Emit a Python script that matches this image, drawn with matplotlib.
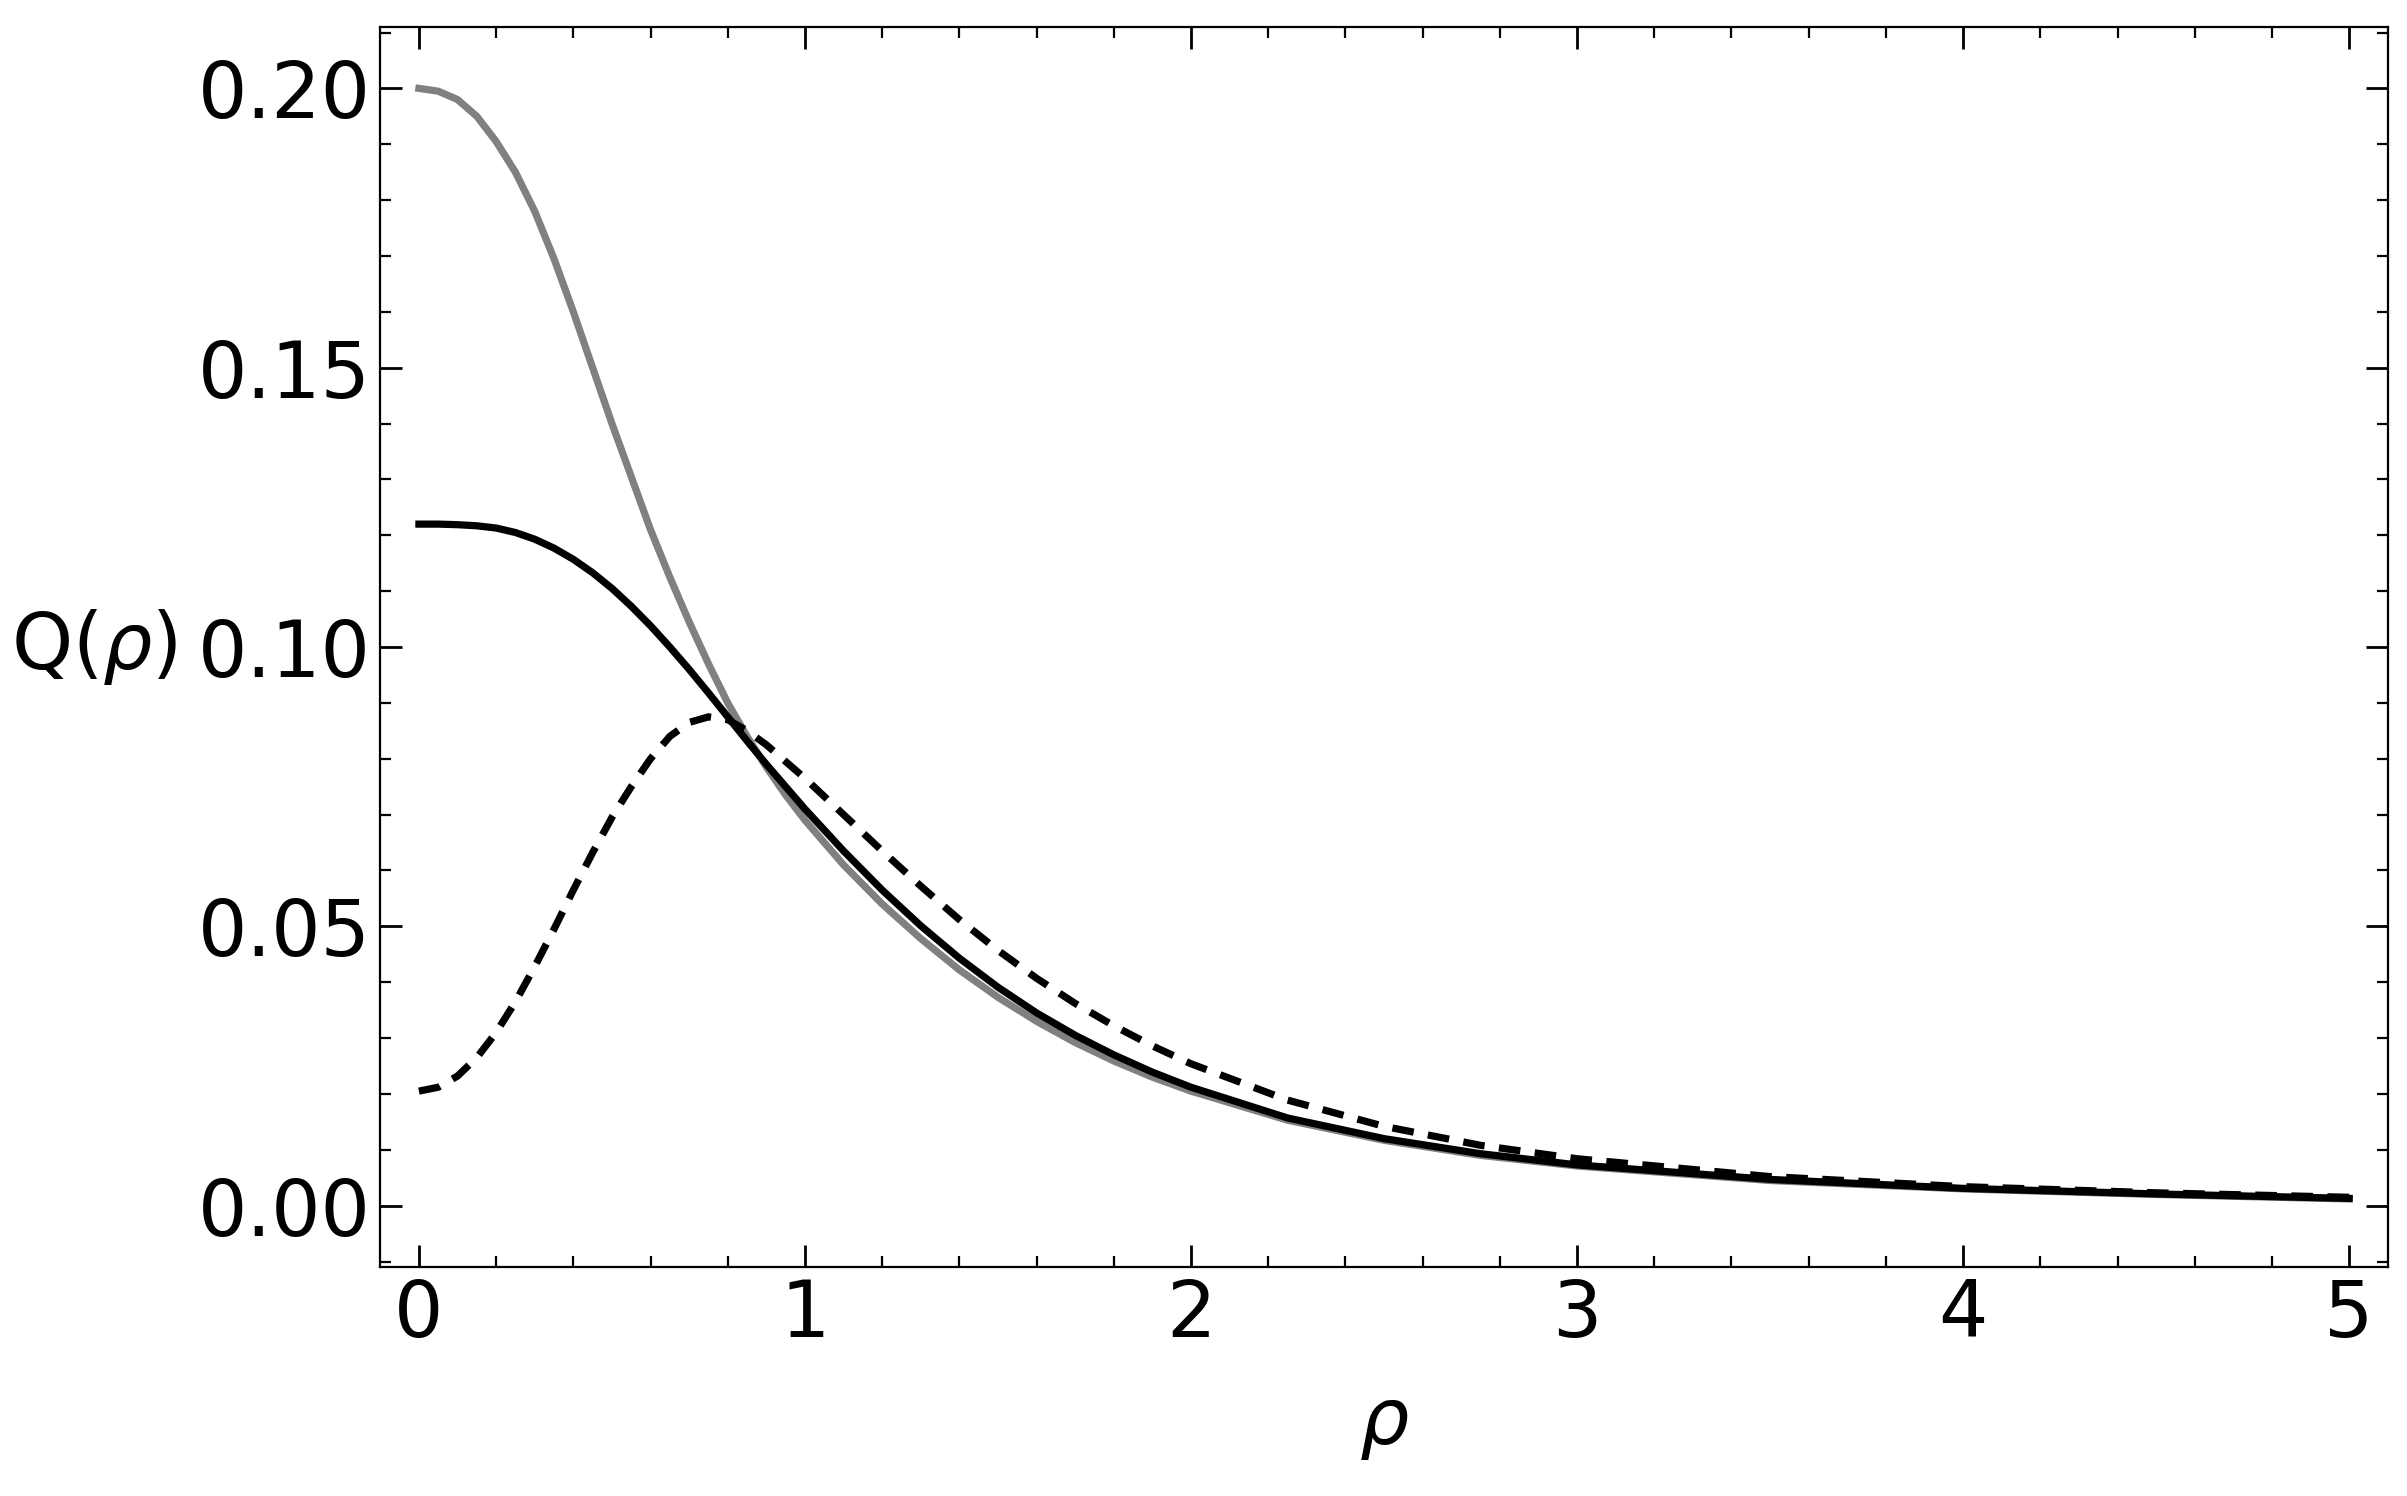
import matplotlib.pyplot as plt
from matplotlib.ticker import MultipleLocator

rho = [0, 0.05, 0.1, 0.15, 0.2, 0.25, 0.3, 0.35, 0.4, 0.45, 0.5, 0.55, 0.6,
       0.65, 0.7, 0.75, 0.8, 0.85, 0.9, 0.95, 1.0, 1.1, 1.2, 1.3, 1.4, 1.5,
       1.6, 1.7, 1.8, 1.9, 2.0, 2.25, 2.5, 2.75, 3.0, 3.5, 4.0, 4.5, 5.0]
q_gray = [0.200, 0.1995, 0.198, 0.195, 0.1905, 0.185, 0.178, 0.1695, 0.160,
          0.150, 0.140, 0.1305, 0.121, 0.1125, 0.1045, 0.097, 0.090, 0.084,
          0.0785, 0.0735, 0.0690, 0.0610, 0.0540, 0.0478, 0.0422, 0.0373,
          0.0330, 0.0292, 0.0259, 0.0230, 0.0205, 0.0153, 0.0117, 0.0090,
          0.0071, 0.0045, 0.0030, 0.0020, 0.0012]
q_black = [0.122, 0.122, 0.1219, 0.1217, 0.1213, 0.1205, 0.1193, 0.1177,
           0.1157, 0.1133, 0.1105, 0.1073, 0.1038, 0.1000, 0.0960, 0.0918,
           0.0875, 0.0832, 0.0790, 0.0750, 0.0710, 0.0635, 0.0565, 0.0501,
           0.0443, 0.0391, 0.0345, 0.0305, 0.0270, 0.0239, 0.0212, 0.0157,
           0.0120, 0.0093, 0.0073, 0.0047, 0.0031, 0.0021, 0.0013]
q_dashed = [0.0205, 0.0212, 0.0232, 0.0265, 0.0310, 0.0365, 0.0428, 0.0495,
            0.0565, 0.0632, 0.0695, 0.0750, 0.0800, 0.0840, 0.0865, 0.0875,
            0.0870, 0.0850, 0.0825, 0.0795, 0.0765, 0.0700, 0.0635, 0.0572,
            0.0512, 0.0457, 0.0407, 0.0362, 0.0322, 0.0286, 0.0254, 0.0189,
            0.0142, 0.0108, 0.0084, 0.0052, 0.0034, 0.0023, 0.0015]

plt.rcParams['font.size'] = 28
fig = plt.figure(figsize=(12.035, 7.48), dpi=200)
ax = fig.add_axes([0.158, 0.153, 0.834, 0.829])

ax.plot(rho, q_gray, color="gray", lw=2.6)
ax.plot(rho, q_black, color="black", lw=2.6)
ax.plot(rho, q_dashed, color="black", lw=2.6, ls=(0, (3, 2)))

ax.set_xlim(-0.1, 5.1)
ax.set_ylim(-0.011, 0.211)
ax.xaxis.set_major_locator(MultipleLocator(1))
ax.xaxis.set_minor_locator(MultipleLocator(0.2))
ax.yaxis.set_major_locator(MultipleLocator(0.05))
ax.yaxis.set_minor_locator(MultipleLocator(0.01))
ax.yaxis.set_major_formatter(plt.FormatStrFormatter("%.2f"))
ax.tick_params(which="both", direction="in", top=True, right=True)
ax.tick_params(which="major", length=8, width=1)
ax.tick_params(which="minor", length=4, width=0.8)
ax.set_xlabel(r"$\rho$", labelpad=12)
ax.set_ylabel(r"Q($\rho$)", rotation=0, va="center", ha="left")
ax.yaxis.set_label_coords(-0.184, 0.5)

fig.savefig("out.png")
